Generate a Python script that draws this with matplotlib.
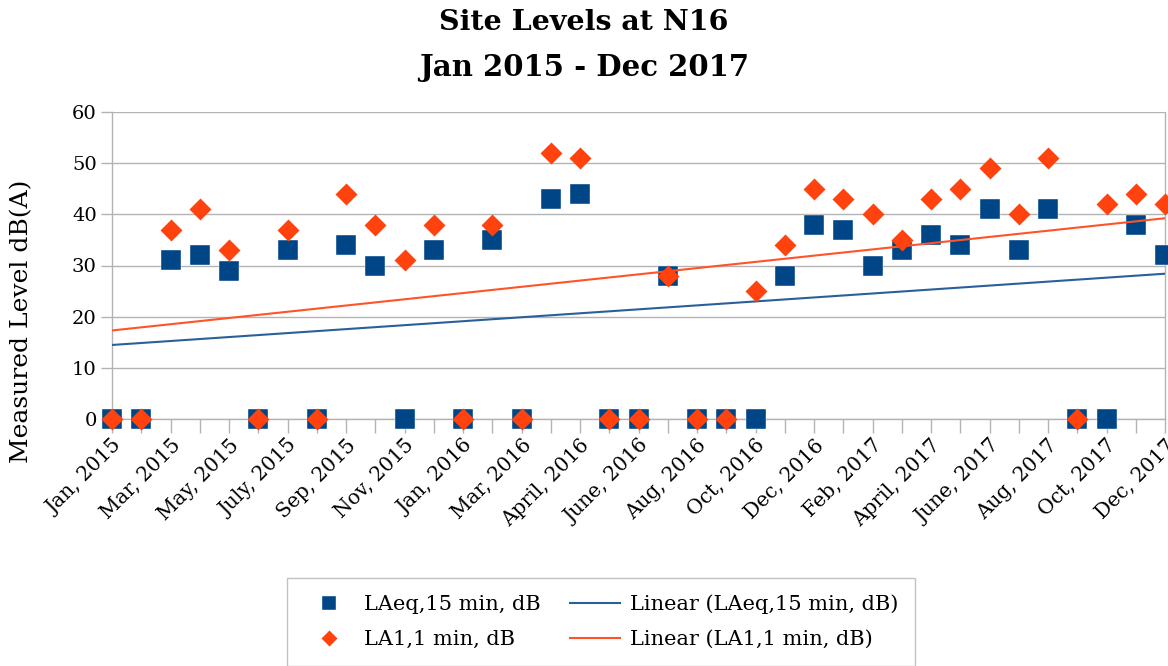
import numpy as np
import matplotlib
matplotlib.use('Agg')
import matplotlib.pyplot as plt

# 37 categories (Mar 2016 appears twice), labels shown on every second one
tick_labels = ['Jan, 2015', 'Mar, 2015', 'May, 2015', 'July, 2015', 'Sep, 2015',
               'Nov, 2015', 'Jan, 2016', 'Mar, 2016', 'April, 2016', 'June, 2016',
               'Aug, 2016', 'Oct, 2016', 'Dec, 2016', 'Feb, 2017', 'April, 2017',
               'June, 2017', 'Aug, 2017', 'Oct, 2017', 'Dec, 2017']

laeq = [0, 0, 31, 32, 29, 0, 33, 0, 34, 30, 0, 33, 0, 35, 0, 43, 44, 0, 0,
        28, 0, 0, 0, 28, 38, 37, 30, 33, 36, 34, 41, 33, 41, 0, 0, 38, 32]
la1 = [0, 0, 37, 41, 33, 0, 37, 0, 44, 38, 31, 38, 0, 38, 0, 52, 51, 0, 0,
       28, 0, 0, 25, 34, 45, 43, 40, 35, 43, 45, 49, 40, 51, 0, 42, 44, 42]

blue = '#004586'
orange = '#ff420e'

plt.rcParams['font.family'] = ['DejaVu Serif']

x = np.arange(len(laeq))
fig = plt.figure(figsize=(11.68, 6.66), dpi=100)
ax = fig.add_axes([112 / 1168, 1 - 419 / 666, (1165 - 112) / 1168, (419 - 112) / 666])

sq, = ax.plot(x, laeq, 's', color=blue, ms=14, mec='white', mew=0.3,
              clip_on=False, zorder=3, label='LAeq,15 min, dB')
dia, = ax.plot(x, la1, 'D', color=orange, ms=11, mec='none',
               clip_on=False, zorder=5, label='LA1,1 min, dB')

# linear trend lines
p1 = np.polyfit(x, laeq, 1)
p2 = np.polyfit(x, la1, 1)
l1, = ax.plot(x, np.polyval(p1, x), color='#2a6099', lw=1.5, zorder=4,
              label='Linear (LAeq,15 min, dB)')
l2, = ax.plot(x, np.polyval(p2, x), color='#ff5429', lw=1.5, zorder=4,
              label='Linear (LA1,1 min, dB)')

ax.set_xlim(0, len(laeq) - 1)
ax.set_ylim(0, 60)
ax.set_yticks(range(0, 61, 10))
ax.set_xticks(x[::2])
ax.set_xticklabels(tick_labels, rotation=45, ha='right', rotation_mode='anchor',
                   fontsize=14.5)
ax.set_xticks(x, minor=True)
ax.tick_params(axis='x', which='both', length=10, width=1, color='#b3b3b3',
               direction='out', pad=2)
ax.tick_params(axis='y', length=8, width=1, color='#b3b3b3', labelsize=14, pad=3)

ax.grid(axis='y', color='#b3b3b3', lw=1)
ax.spines['top'].set_visible(False)
for s in ['left', 'bottom', 'right']:
    ax.spines[s].set_color('#b3b3b3')
    ax.spines[s].set_linewidth(1)
ax.set_axisbelow(True)

fig.text(22 / 1168, 1 - 321 / 666, 'Measured Level dB(A)', rotation=90,
         ha='center', va='center', fontsize=18)

fig.text(0.5, 1 - 22 / 666, 'Site Levels at N16', ha='center', va='center',
         fontsize=20.5, fontweight='bold')
fig.text(0.5, 1 - 67 / 666, 'Jan 2015 - Dec 2017', ha='center', va='center',
         fontsize=21, fontweight='bold')

leg = fig.legend(handles=[sq, dia, l1, l2], ncol=2, loc='upper left',
                 bbox_to_anchor=(287 / 1168, 1 - 578 / 666), borderaxespad=0,
                 fontsize=15, frameon=True, fancybox=False, edgecolor='#b3b3b3',
                 handlelength=2.4, handletextpad=0.5, columnspacing=1.4,
                 borderpad=0.8, labelspacing=0.75, markerscale=0.75)
leg.get_frame().set_linewidth(1)

fig.savefig('out.png', dpi=100)
